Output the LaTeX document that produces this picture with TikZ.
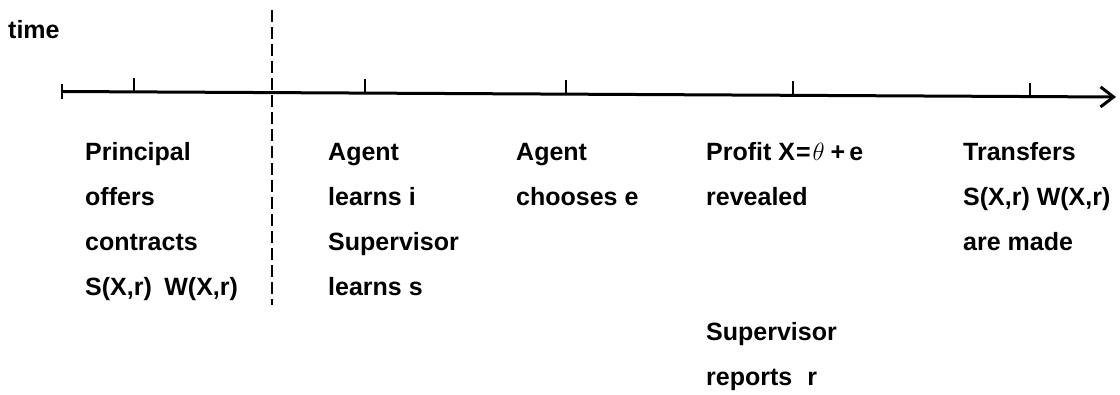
\documentclass[tikz,border=0pt]{standalone}
\usepackage{fontspec}
\setmainfont{Liberation Sans}
\usetikzlibrary{arrows.meta}
\begin{document}
\begin{tikzpicture}[x=1pt,y=-1pt,
  lbl/.style={anchor=base west,inner sep=0pt,font=\fontsize{25}{28}\selectfont\bfseries},
  axisline/.style={line width=3pt,-{Straight Barb[length=13pt,width=20pt,line width=3pt]}},
  tickmark/.style={line width=2.6pt},
  divider/.style={line width=2.8pt,dash pattern=on 12pt off 5pt}]
\useasboundingbox (0,0) rectangle (1120,394);
\coordinate (a0) at (62,91.5);
\coordinate (a1) at (1116,97);
\draw[axisline] (a0) -- (a1);
\draw[tickmark] (62,84) -- (62,99);
\foreach \x/\y in {134/91.9,365/93.1,566/94.1,793/95.3,1030/96.6}{
  \draw[tickmark] (\x,\y) -- (\x,\y-14);
}
\coordinate (d0) at (272,10);
\coordinate (d1) at (272,305);
\draw[divider] (d0) -- (d1);
\node[lbl] (time) at (8,38) {time};
% column 1
\node[lbl] (c1a) at (85,160) {Principal};
\node[lbl] (c1b) at (85,205) {offers};
\node[lbl] (c1c) at (85,250) {contracts};
\node[lbl] (c1d) at (85,295) {S(X,r)\hspace{0.5em}W(X,r)};
% column 2
\node[lbl] (c2a) at (328,160) {Agent};
\node[lbl] (c2b) at (328,205) {learns i};
\node[lbl] (c2c) at (328,250) {Supervisor};
\node[lbl] (c2d) at (328,295) {learns s};
% column 3
\node[lbl] (c3a) at (516,160) {Agent};
\node[lbl] (c3b) at (516,205) {chooses e};
% column 4
\node[lbl] (c4a) at (706,160) {Profit X\kern1pt=\kern2pt$\theta$\kern6pt+\kern4pt e};
\node[lbl] (c4b) at (706,205) {revealed};
\node[lbl] (c4c) at (706,340) {Supervisor};
\node[lbl] (c4d) at (706,385) {reports\hspace{0.6em}r};
% column 5
\node[lbl] (c5a) at (963,160) {Transfers};
\node[lbl] (c5b) at (963,205) {S(X,r) W(X,r)};
\node[lbl] (c5c) at (963,250) {are made};
\end{tikzpicture}
\end{document}
